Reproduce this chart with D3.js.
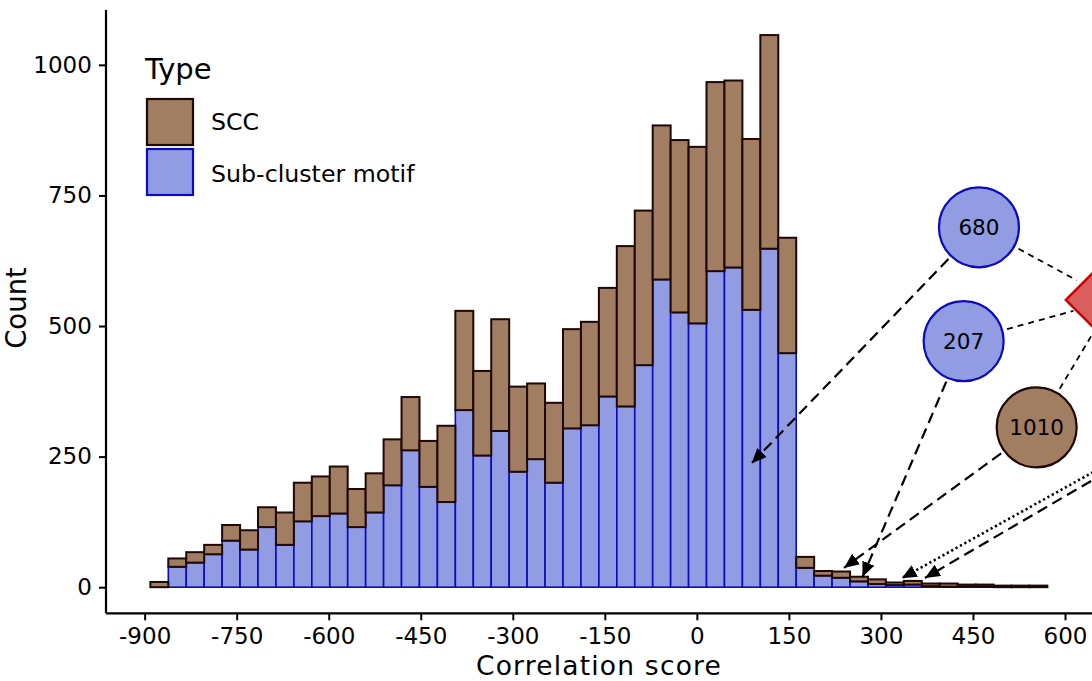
<!DOCTYPE html>
<html><head><meta charset="utf-8">
<script src="https://cdn.jsdelivr.net/npm/d3@7"></script>
<style>body{margin:0;background:#fff} svg{display:block} text{font-family:"DejaVu Sans",Verdana,sans-serif;fill:#000}</style>
</head><body><svg id="c" width="1092" height="681"></svg>
<script>
// ---- data ----
const binStart = -890.7;
const binWidth = 29.24;
const motifCounts = [0,39,47,63,89,72,115,81,126,136,141,115,143,195,262,192,163,339,252,299,221,245,200,304,310,365,346,425,589,526,505,605,612,531,648,448,37,22,18,11,6,4,5,2,1,1,1,0,0,0];
const sccCounts   = [10,16,20,18,30,37,38,62,74,76,90,73,75,88,102,88,146,190,162,214,163,145,153,190,198,208,307,296,295,330,338,362,358,327,409,221,21,9,12,9,9,5,7,5,6,4,4,3,3,3];
const seriesNames = ["SCC","Sub-cluster motif"];
const xTicks = [-900,-750,-600,-450,-300,-150,0,150,300,450,600];
const yTicks = [0,250,500,750,1000];
// annotation nodes (in data units: score, count)
const nodeLabels = ["680","207","1010"];
const nodeScore  = [459.7,434.8,553.8];
const nodeCount  = [689,471,306];
const nodeSeries = [1,1,0];
const hubScore = 678, hubCount = 550;
const arrowToScore = [89.3,269.9,239.7];
const arrowToCount = [237.2,19.5,36.8];
const extFromScore = [738.4,738.4];
const extFromCount = [280.6,269];
const extToScore = [333.8,371.7];
const extToCount = [17,17.6];
const extStyle = ["dotted","dashed"];

// ---- styles ----
const fills = ["#A17D62","#919CE2"];
const strokes = ["#1E0805","#0A0ABE"];

const svg = d3.select("#c");
const L=106, R=1092, T=10, B=613.3;
const x = d3.scaleLinear().domain([-963,644]).range([L,R]);
const y = d3.scaleLinear().domain([-50,1105]).range([B,T]);

const bins = motifCounts.map((m,i)=>({x0:binStart+i*binWidth, x1:binStart+(i+1)*binWidth, m, s:sccCounts[i]}));

const defs = svg.append("defs");
defs.append("clipPath").attr("id","pc").append("rect").attr("x",L).attr("y",T).attr("width",R-L).attr("height",B-T);
defs.append("marker").attr("id","ah").attr("markerUnits","userSpaceOnUse")
  .attr("markerWidth",16).attr("markerHeight",14).attr("refX",15).attr("refY",6.5).attr("orient","auto")
  .append("path").attr("d","M0,0 L15,6.5 L0,13 Z").attr("fill","#000");

const g = svg.append("g").attr("clip-path","url(#pc)");
g.selectAll("rect.m").data(bins).join("rect").attr("class","m")
  .attr("x",d=>x(d.x0)).attr("width",d=>x(d.x1)-x(d.x0))
  .attr("y",d=>y(d.m)).attr("height",d=>y(0)-y(d.m))
  .attr("fill",fills[1]).attr("stroke",strokes[1]).attr("stroke-width",1.6);
g.selectAll("rect.s").data(bins).join("rect").attr("class","s")
  .attr("x",d=>x(d.x0)).attr("width",d=>x(d.x1)-x(d.x0))
  .attr("y",d=>y(d.m+d.s)).attr("height",d=>y(d.m)-y(d.m+d.s))
  .attr("fill",fills[0]).attr("stroke",strokes[0]).attr("stroke-width",2);

// axes
const xa = svg.append("g").attr("transform",`translate(0,${B})`)
  .call(d3.axisBottom(x).tickValues(xTicks).tickFormat(d=>String(d)).tickSize(7).tickPadding(2).tickSizeOuter(0));
const ya = svg.append("g").attr("transform",`translate(${L},0)`)
  .call(d3.axisLeft(y).tickValues(yTicks).tickFormat(d=>String(d)).tickSize(7).tickSizeOuter(0));
[xa,ya].forEach(a=>{
  a.select(".domain").attr("stroke","#000").attr("stroke-width",2.2);
  a.selectAll(".tick line").attr("stroke","#000").attr("stroke-width",2);
  a.selectAll(".tick text").attr("font-size",23).attr("fill","#000").style("font-family",'"DejaVu Sans",Verdana,sans-serif');
});
xa.select(".domain").attr("d",`M${L},0H${R}`);
ya.select(".domain").attr("d",`M0,${T}V${B}`);
xa.selectAll(".tick text").attr("dy","0.95em");
ya.selectAll(".tick text").attr("dx","-0.18em");

svg.append("text").attr("x",(L+R)/2).attr("y",674.5).attr("text-anchor","middle").attr("font-size",26.5)
  .attr("letter-spacing","1.2px").text("Correlation score");
svg.append("text").attr("transform",`translate(26,308) rotate(-90)`).attr("text-anchor","middle").attr("font-size",27.5).text("Count");

// legend
const lg = svg.append("g");
lg.append("text").attr("x",145).attr("y",79).attr("font-size",29).text("Type");
seriesNames.forEach((n,i)=>{
  lg.append("rect").attr("x",147).attr("y",99+i*50).attr("width",46).attr("height",46)
    .attr("fill",fills[i]).attr("stroke",strokes[i]).attr("stroke-width",2.2);
  lg.append("text").attr("x",211).attr("y",130+i*51.5).attr("font-size",23.7).text(n);
});

// annotations
const ann = svg.append("g");
const P = (s,c)=>[x(s),y(c)];
const nodeR = 40, hubR = 47;
function seg(a,b,ca,cb){
  const dx=b[0]-a[0], dy=b[1]-a[1], l=Math.hypot(dx,dy);
  return [[a[0]+dx/l*ca, a[1]+dy/l*ca],[b[0]-dx/l*cb, b[1]-dy/l*cb]];
}
const hub = P(hubScore,hubCount);
// node-hub edges
nodeLabels.forEach((lab,i)=>{
  const p = P(nodeScore[i],nodeCount[i]);
  const [a,b] = seg(p,hub,nodeR+5,hubR-6);
  ann.append("line").attr("x1",a[0]).attr("y1",a[1]).attr("x2",b[0]).attr("y2",b[1])
    .attr("stroke","#000").attr("stroke-width",1.8).attr("stroke-dasharray","6,5");
});
// arrows from nodes to bars
nodeLabels.forEach((lab,i)=>{
  const p = P(nodeScore[i],nodeCount[i]);
  const t = P(arrowToScore[i],arrowToCount[i]);
  const [a,b] = seg(p,t,nodeR+4,0);
  ann.append("line").attr("x1",a[0]).attr("y1",a[1]).attr("x2",b[0]).attr("y2",b[1])
    .attr("stroke","#000").attr("stroke-width",2.2).attr("stroke-dasharray","11,6").attr("marker-end","url(#ah)");
});
// arrows from off-screen nodes
extStyle.forEach((st,i)=>{
  const a = P(extFromScore[i],extFromCount[i]), b = P(extToScore[i],extToCount[i]);
  ann.append("line").attr("x1",a[0]).attr("y1",a[1]).attr("x2",b[0]).attr("y2",b[1])
    .attr("stroke","#000").attr("stroke-width",st==="dotted"?2.6:2.2)
    .attr("stroke-dasharray",st==="dotted"?"2.2,2.8":"11,6").attr("marker-end","url(#ah)");
});
// hub diamond
ann.append("path").attr("d",`M${hub[0]-hubR},${hub[1]} L${hub[0]},${hub[1]-hubR} L${hub[0]+hubR},${hub[1]} L${hub[0]},${hub[1]+hubR} Z`)
  .attr("fill","#DB5E5E").attr("stroke","#CC0000").attr("stroke-width",2.5);
// node circles
nodeLabels.forEach((lab,i)=>{
  const p = P(nodeScore[i],nodeCount[i]);
  ann.append("circle").attr("cx",p[0]).attr("cy",p[1]).attr("r",nodeR)
    .attr("fill",fills[nodeSeries[i]]).attr("stroke",strokes[nodeSeries[i]]).attr("stroke-width",2.2);
  ann.append("text").attr("x",p[0]).attr("y",p[1]).attr("dy","0.36em").attr("text-anchor","middle")
    .attr("font-size",21.5).text(lab);
});
</script></body></html>
